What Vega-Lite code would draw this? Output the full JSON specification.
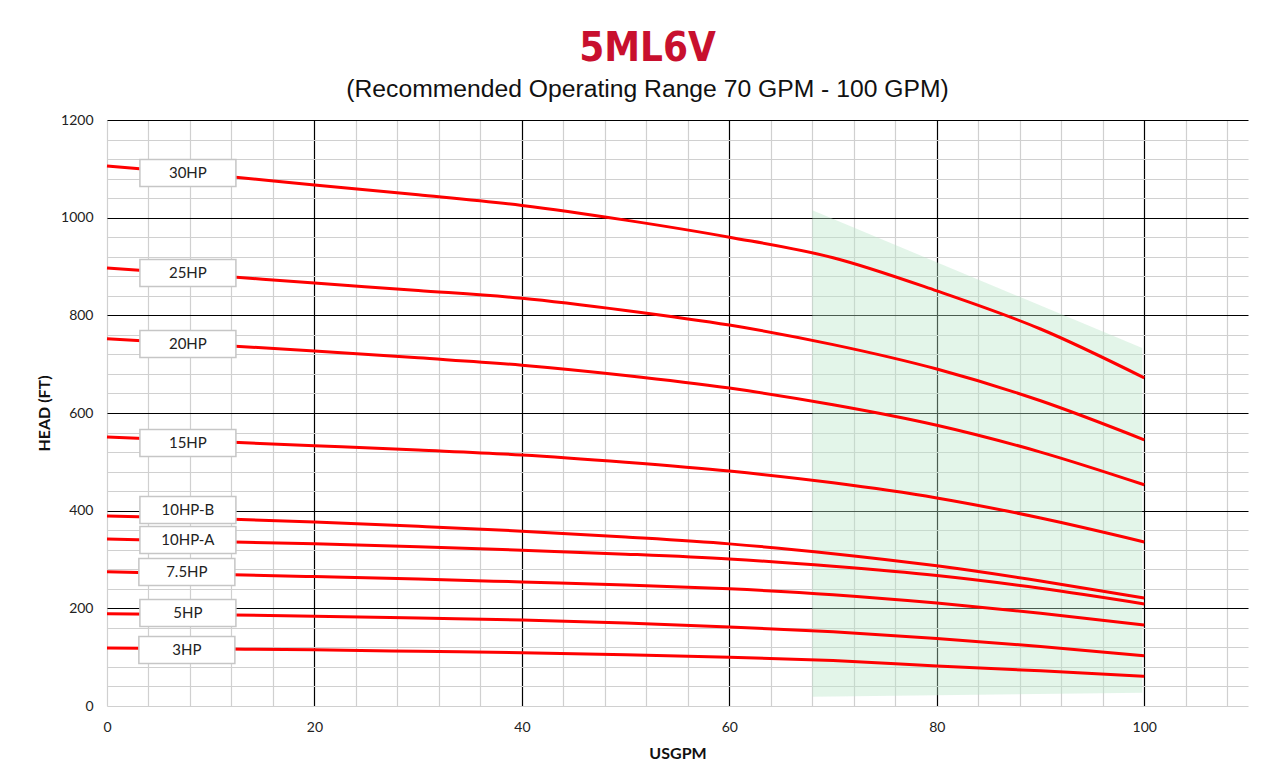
{
  "$schema": "https://vega.github.io/schema/vega-lite/v6.json",
  "autosize": {"type": "none"},
  "width": 1141,
  "height": 586,
  "padding": {"left": 107, "top": 120, "right": 32, "bottom": 74},
  "background": "white",
  "title": {
    "text": "5ML6V",
    "subtitle": "(Recommended Operating Range 70 GPM - 100 GPM)",
    "anchor": "middle",
    "frame": "group",
    "dx": -30,
    "offset": 11,
    "font": "DejaVu Sans Condensed, Roboto, sans-serif",
    "fontSize": 40,
    "fontWeight": "bold",
    "color": "#C8102E",
    "subtitleFont": "Liberation Sans",
    "subtitleFontSize": 24.7,
    "subtitleColor": "#111",
    "subtitlePadding": 8
  },
  "datasets": {
    "curves": [
      {"series": "30HP", "gpm": 0, "head": 1106}, {"series": "30HP", "gpm": 10, "head": 1088}, {"series": "30HP", "gpm": 20, "head": 1067}, {"series": "30HP", "gpm": 30, "head": 1047}, {"series": "30HP", "gpm": 40, "head": 1025}, {"series": "30HP", "gpm": 50, "head": 995}, {"series": "30HP", "gpm": 60, "head": 960}, {"series": "30HP", "gpm": 70, "head": 918}, {"series": "30HP", "gpm": 80, "head": 850}, {"series": "30HP", "gpm": 90, "head": 772}, {"series": "30HP", "gpm": 100, "head": 672},
      {"series": "25HP", "gpm": 0, "head": 897}, {"series": "25HP", "gpm": 10, "head": 882}, {"series": "25HP", "gpm": 20, "head": 866}, {"series": "25HP", "gpm": 30, "head": 851}, {"series": "25HP", "gpm": 40, "head": 835}, {"series": "25HP", "gpm": 50, "head": 810}, {"series": "25HP", "gpm": 60, "head": 780}, {"series": "25HP", "gpm": 70, "head": 740}, {"series": "25HP", "gpm": 80, "head": 690}, {"series": "25HP", "gpm": 90, "head": 625}, {"series": "25HP", "gpm": 100, "head": 545},
      {"series": "20HP", "gpm": 0, "head": 752}, {"series": "20HP", "gpm": 10, "head": 740}, {"series": "20HP", "gpm": 20, "head": 727}, {"series": "20HP", "gpm": 30, "head": 713}, {"series": "20HP", "gpm": 40, "head": 698}, {"series": "20HP", "gpm": 50, "head": 677}, {"series": "20HP", "gpm": 60, "head": 651}, {"series": "20HP", "gpm": 70, "head": 617}, {"series": "20HP", "gpm": 80, "head": 575}, {"series": "20HP", "gpm": 90, "head": 520}, {"series": "20HP", "gpm": 100, "head": 453},
      {"series": "15HP", "gpm": 0, "head": 551}, {"series": "15HP", "gpm": 10, "head": 542}, {"series": "15HP", "gpm": 20, "head": 533}, {"series": "15HP", "gpm": 30, "head": 524}, {"series": "15HP", "gpm": 40, "head": 514}, {"series": "15HP", "gpm": 50, "head": 499}, {"series": "15HP", "gpm": 60, "head": 481}, {"series": "15HP", "gpm": 70, "head": 457}, {"series": "15HP", "gpm": 80, "head": 426}, {"series": "15HP", "gpm": 90, "head": 385}, {"series": "15HP", "gpm": 100, "head": 336},
      {"series": "10HP-B", "gpm": 0, "head": 389}, {"series": "10HP-B", "gpm": 10, "head": 384}, {"series": "10HP-B", "gpm": 20, "head": 377}, {"series": "10HP-B", "gpm": 30, "head": 368}, {"series": "10HP-B", "gpm": 40, "head": 358}, {"series": "10HP-B", "gpm": 50, "head": 346}, {"series": "10HP-B", "gpm": 60, "head": 332}, {"series": "10HP-B", "gpm": 70, "head": 312}, {"series": "10HP-B", "gpm": 80, "head": 287}, {"series": "10HP-B", "gpm": 90, "head": 256}, {"series": "10HP-B", "gpm": 100, "head": 221},
      {"series": "10HP-A", "gpm": 0, "head": 342}, {"series": "10HP-A", "gpm": 10, "head": 337}, {"series": "10HP-A", "gpm": 20, "head": 332}, {"series": "10HP-A", "gpm": 30, "head": 326}, {"series": "10HP-A", "gpm": 40, "head": 319}, {"series": "10HP-A", "gpm": 50, "head": 311}, {"series": "10HP-A", "gpm": 60, "head": 301}, {"series": "10HP-A", "gpm": 70, "head": 286}, {"series": "10HP-A", "gpm": 80, "head": 267}, {"series": "10HP-A", "gpm": 90, "head": 241}, {"series": "10HP-A", "gpm": 100, "head": 209},
      {"series": "7.5HP", "gpm": 0, "head": 275}, {"series": "7.5HP", "gpm": 10, "head": 270}, {"series": "7.5HP", "gpm": 20, "head": 265}, {"series": "7.5HP", "gpm": 30, "head": 260}, {"series": "7.5HP", "gpm": 40, "head": 254}, {"series": "7.5HP", "gpm": 50, "head": 248}, {"series": "7.5HP", "gpm": 60, "head": 240}, {"series": "7.5HP", "gpm": 70, "head": 228}, {"series": "7.5HP", "gpm": 80, "head": 211}, {"series": "7.5HP", "gpm": 90, "head": 190}, {"series": "7.5HP", "gpm": 100, "head": 166},
      {"series": "5HP", "gpm": 0, "head": 189}, {"series": "5HP", "gpm": 10, "head": 187}, {"series": "5HP", "gpm": 20, "head": 184}, {"series": "5HP", "gpm": 30, "head": 180}, {"series": "5HP", "gpm": 40, "head": 176}, {"series": "5HP", "gpm": 50, "head": 170}, {"series": "5HP", "gpm": 60, "head": 162}, {"series": "5HP", "gpm": 70, "head": 152}, {"series": "5HP", "gpm": 80, "head": 138}, {"series": "5HP", "gpm": 90, "head": 122}, {"series": "5HP", "gpm": 100, "head": 103},
      {"series": "3HP", "gpm": 0, "head": 119}, {"series": "3HP", "gpm": 10, "head": 117}, {"series": "3HP", "gpm": 20, "head": 115}, {"series": "3HP", "gpm": 30, "head": 112}, {"series": "3HP", "gpm": 40, "head": 109}, {"series": "3HP", "gpm": 50, "head": 105}, {"series": "3HP", "gpm": 60, "head": 100}, {"series": "3HP", "gpm": 70, "head": 93}, {"series": "3HP", "gpm": 80, "head": 82}, {"series": "3HP", "gpm": 90, "head": 72}, {"series": "3HP", "gpm": 100, "head": 61}
    ],
    "range": [
      {"gpm": 68, "top": 1015, "bottom": 19},
      {"gpm": 99.8, "top": 733, "bottom": 27}
    ],
    "labels": [
      {"label": "30HP", "gpm": 7.8, "head": 1091.5},
      {"label": "25HP", "gpm": 7.8, "head": 886.7},
      {"label": "20HP", "gpm": 7.8, "head": 741.3},
      {"label": "15HP", "gpm": 7.8, "head": 538.6},
      {"label": "10HP-B", "gpm": 7.8, "head": 401.4},
      {"label": "10HP-A", "gpm": 7.8, "head": 339.9},
      {"label": "7.5HP", "gpm": 7.7, "head": 274.4},
      {"label": "5HP", "gpm": 7.8, "head": 190.4},
      {"label": "3HP", "gpm": 7.7, "head": 114.7}
    ]
  },
  "config": {
    "view": {"stroke": null},
    "axis": {
      "labelFont": "Lato",
      "labelFontSize": 14,
      "labelColor": "#222",
      "titleFont": "Lato",
      "titleFontSize": 16,
      "titleFontWeight": "bold",
      "titleColor": "#111",
      "ticks": false,
      "domain": false,
      "labelFlush": false,
      "labelOverlap": false,
      "gridWidth": 1.2,
      "gridOpacity": 1,
      "tickCount": 200
    }
  },
  "layer": [
    {
      "data": {"name": "range"},
      "mark": {"type": "area", "color": "#b9e6c9", "opacity": 0.4},
      "encoding": {
        "x": {
          "field": "gpm", "type": "quantitative",
          "scale": {"domain": [0, 110], "nice": false},
          "axis": {
            "values": [0, 4, 8, 12, 16, 20, 24, 28, 32, 36, 40, 44, 48, 52, 56, 60, 64, 68, 72, 76, 80, 84, 88, 92, 96, 100, 104, 108],
            "tickCount": 200,
            "format": "d",
            "labelExpr": "datum.value % 20 === 0 ? datum.label : ''",
            "gridColor": {"condition": {"test": "datum.value % 20 === 0 && datum.value > 0", "value": "#000000"}, "value": "#d0d0d0"},
            "labelPadding": 14,
            "title": "USGPM",
            "titleY": 47,
            "titleBaseline": "middle"
          }
        },
        "y": {
          "field": "top", "type": "quantitative",
          "scale": {"domain": [0, 1200], "nice": false},
          "axis": {
            "values": [0, 40, 80, 120, 160, 200, 240, 280, 320, 360, 400, 440, 480, 520, 560, 600, 640, 680, 720, 760, 800, 840, 880, 920, 960, 1000, 1040, 1080, 1120, 1160, 1200],
            "tickCount": 200,
            "labelExpr": "datum.value % 200 === 0 ? datum.label : ''",
            "format": "d",
            "gridColor": {"condition": {"test": "datum.value % 200 === 0 && datum.value > 0", "value": "#000000"}, "value": "#d0d0d0"},
            "labelPadding": 14,
            "title": "HEAD (FT)",
            "titleX": -63,
            "titleY": 293,
            "titleAlign": "center",
            "titleBaseline": "middle"
          }
        },
        "y2": {"field": "bottom"}
      }
    },
    {
      "data": {"name": "curves"},
      "mark": {"type": "line", "color": "#ff0000", "strokeWidth": 3, "interpolate": "monotone"},
      "encoding": {
        "x": {"field": "gpm", "type": "quantitative"},
        "y": {"field": "head", "type": "quantitative"},
        "detail": {"field": "series"}
      }
    },
    {
      "data": {"name": "labels"},
      "mark": {
        "type": "point",
        "shape": "M-1,-0.28125L1,-0.28125L1,0.28125L-1,0.28125Z",
        "size": 9216,
        "filled": true,
        "fill": "white",
        "fillOpacity": 1,
        "opacity": 1,
        "stroke": "#c6c6c6",
        "strokeWidth": 1.5
      },
      "encoding": {
        "x": {"field": "gpm", "type": "quantitative"},
        "y": {"field": "head", "type": "quantitative"}
      }
    },
    {
      "data": {"name": "labels"},
      "mark": {"type": "text", "font": "Lato", "fontSize": 15, "color": "#222", "align": "center", "baseline": "middle"},
      "encoding": {
        "x": {"field": "gpm", "type": "quantitative"},
        "y": {"field": "head", "type": "quantitative"},
        "text": {"field": "label"}
      }
    }
  ]
}
